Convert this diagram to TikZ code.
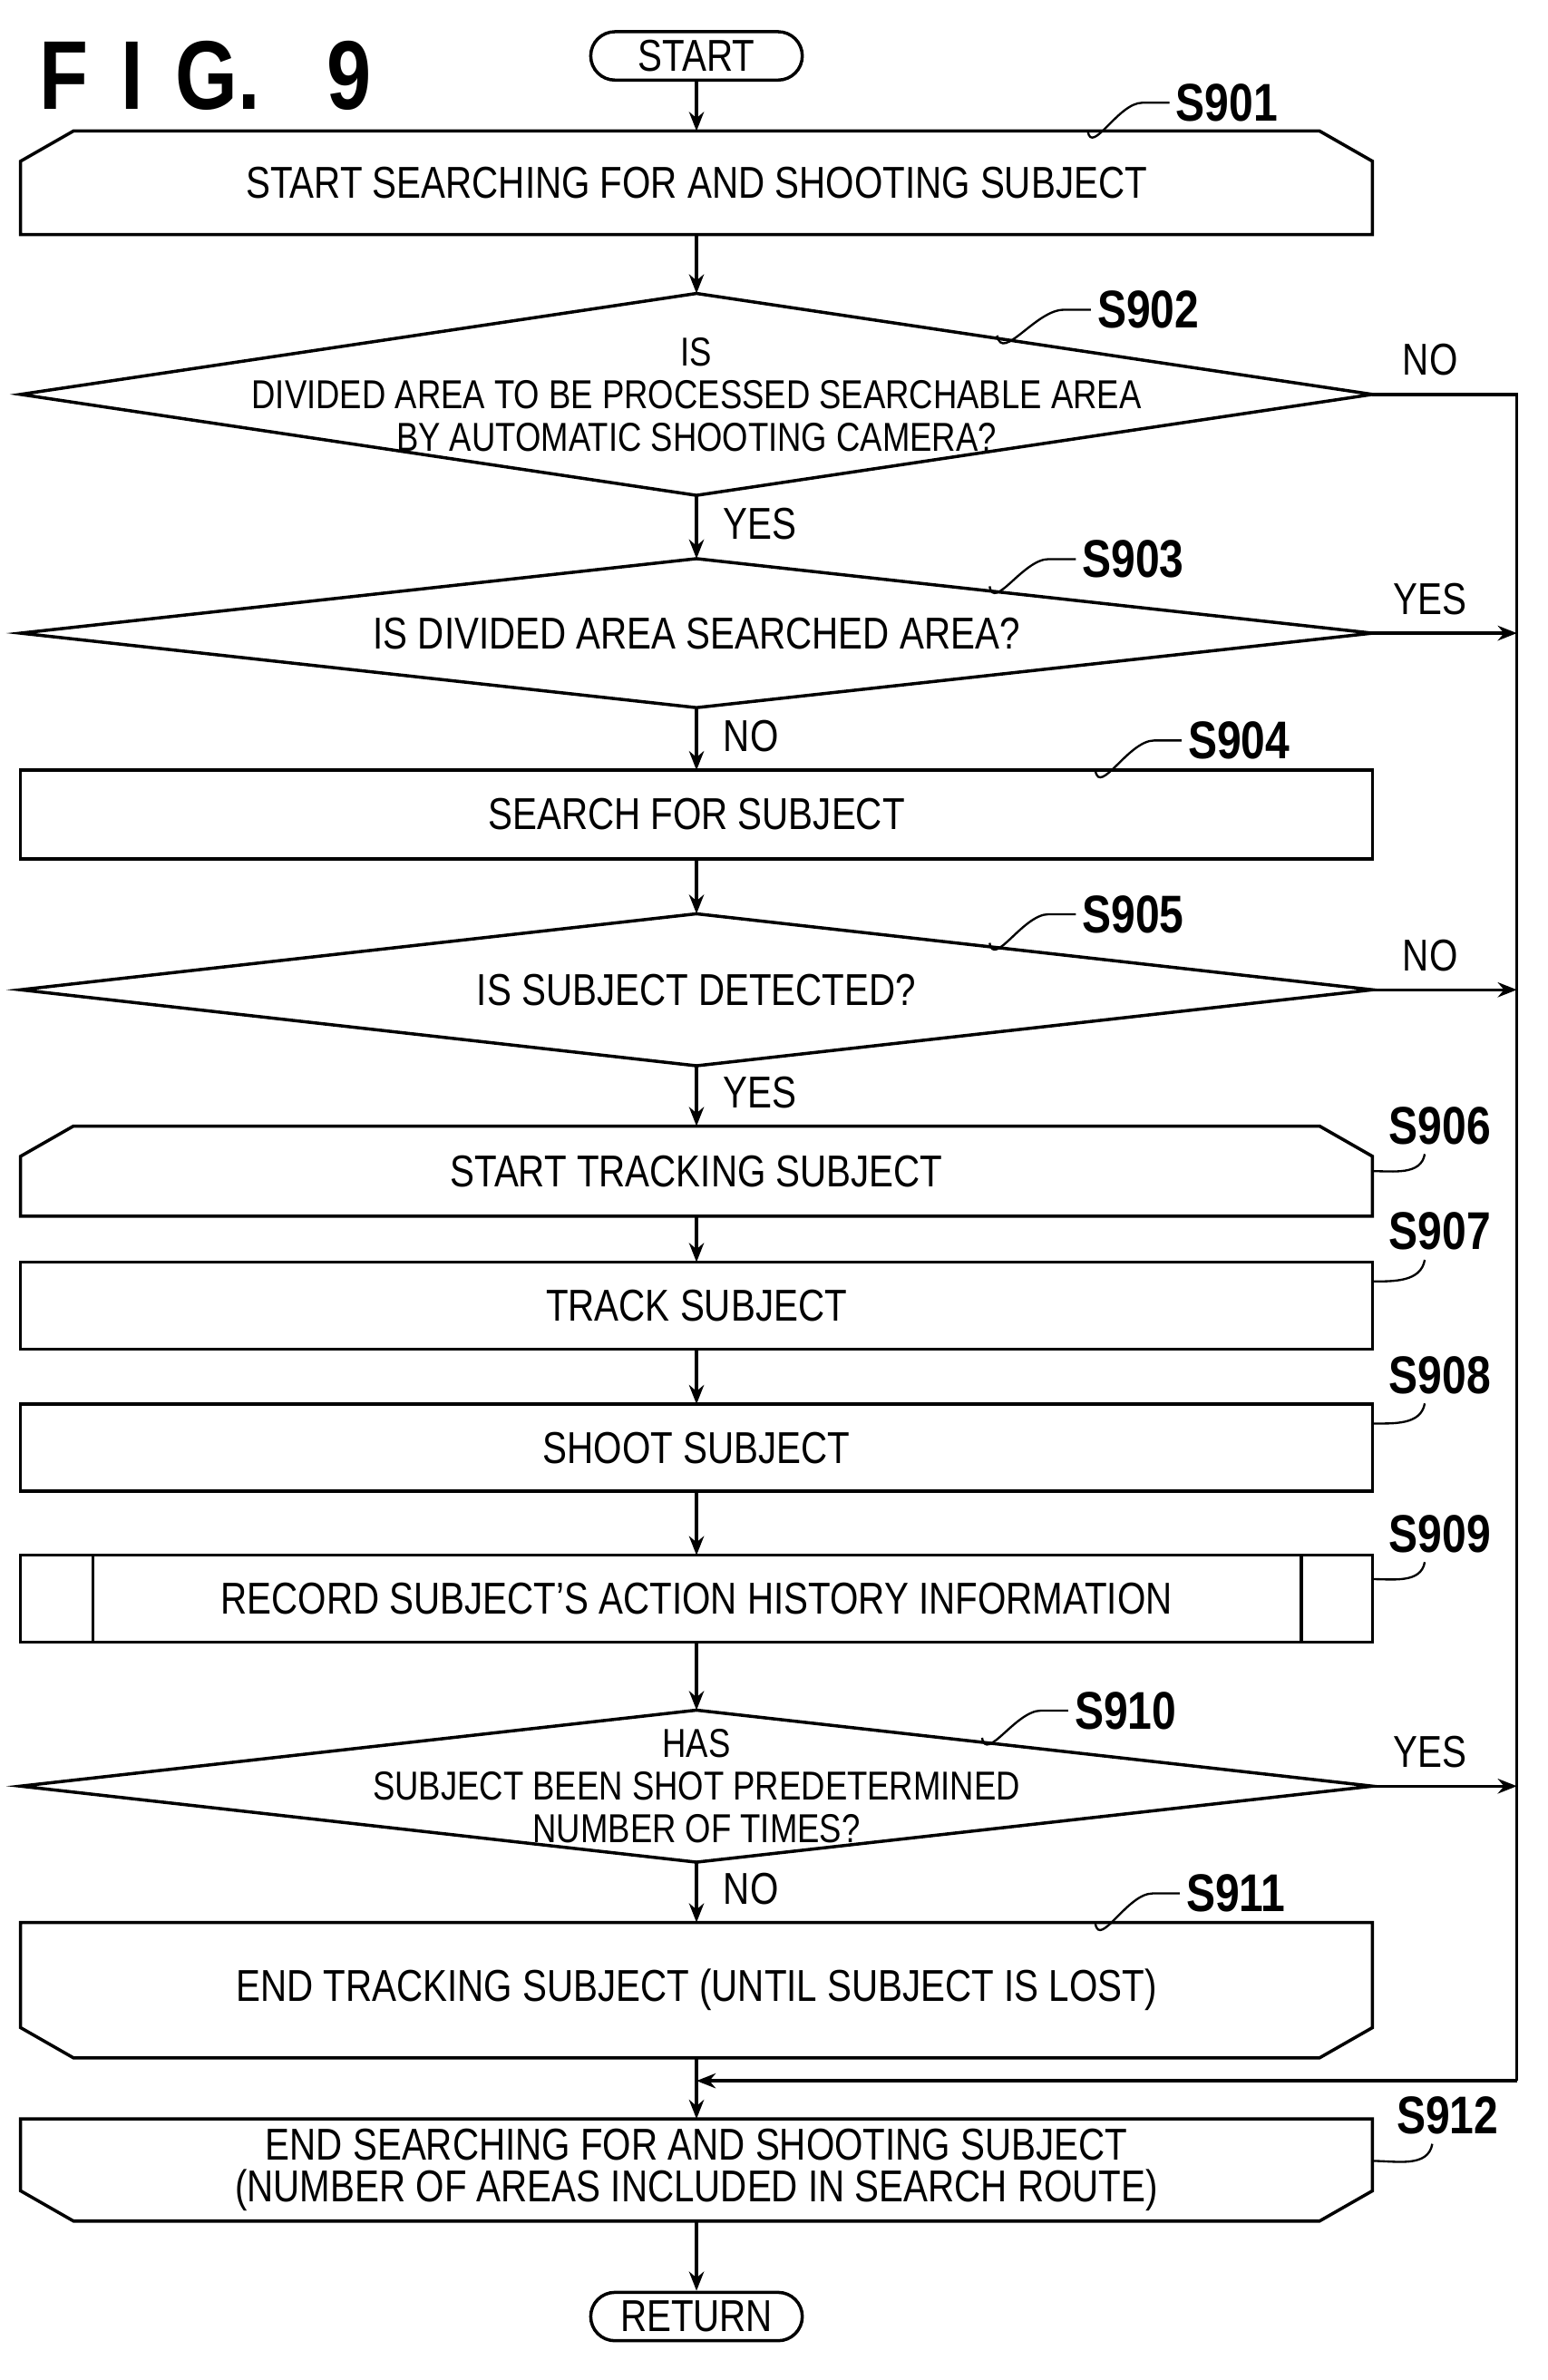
\documentclass[tikz,border=0pt]{standalone}
\usepackage{fontspec}
\setmainfont{Liberation Sans}[FakeStretch=0.82]
\usetikzlibrary{arrows.meta,calc}
\begin{document}
\begin{tikzpicture}[x=0.025cm,y=-0.025cm,
    every node/.style={inner sep=0pt,font=\fontsize{21}{20}\selectfont,align=center},
    blk/.style={minimum width=22.35cm,minimum height=#1},
    small/.style={font=\fontsize{19}{20}\selectfont},
    line/.style={line width=1.5pt},
    flow/.style={line,-{Stealth[length=9pt,width=7pt]}},
    stp/.style={font=\fontsize{25}{24}\selectfont\bfseries},
    term/.style={draw,line width=1.5pt,rounded corners=0.4cm,minimum width=3.5cm,minimum height=0.8cm}]
\useasboundingbox (0,0) rectangle (1024,1575);
% title
\node[font=\fontsize{46}{46}\selectfont\bfseries] (fig) at (136,50) {F\,\,I\,\,G.\ \ \ 9};
% blocks
\node[term] (start) at (461,37) {START};
\node[blk=1.7cm] (b901) at (461,121) {START SEARCHING FOR AND SHOOTING SUBJECT};
\node[blk=3.325cm,small] (d902) at (461,261) {IS\\DIVIDED AREA TO BE PROCESSED SEARCHABLE AREA\\BY AUTOMATIC SHOOTING CAMERA?};
\node[blk=2.45cm] (d903) at (461,419) {IS DIVIDED AREA SEARCHED AREA?};
\node[blk=1.45cm] (b904) at (461,539) {SEARCH FOR SUBJECT};
\node[blk=2.5cm] (d905) at (461,655) {IS SUBJECT DETECTED?};
\node[blk=1.475cm] (b906) at (461,775) {START TRACKING SUBJECT};
\node[blk=1.425cm] (b907) at (461,864) {TRACK SUBJECT};
\node[blk=1.425cm] (b908) at (461,958) {SHOOT SUBJECT};
\node[blk=1.425cm] (b909) at (461,1058) {RECORD SUBJECT'S ACTION HISTORY INFORMATION};
\node[blk=2.5cm,small] (d910) at (461,1182) {HAS\\SUBJECT BEEN SHOT PREDETERMINED\\NUMBER OF TIMES?};
\node[blk=2.225cm] (b911) at (461,1317) {END TRACKING SUBJECT (UNTIL SUBJECT IS LOST)};
\node[blk=1.675cm] (b912) at (461,1436) {END SEARCHING FOR AND SHOOTING SUBJECT\\(NUMBER OF AREAS INCLUDED IN SEARCH ROUTE)};
\node[term] (ret) at (461,1533) {RETURN};
% outlines
\draw[line] ($(b901.north west)+(35,0)$) -- ($(b901.north east)+(-35,0)$) -- ($(b901.north east)+(0,20)$)
  -- (b901.south east) -- (b901.south west) -- ($(b901.north west)+(0,20)$) -- cycle;
\foreach \d in {d902,d903,d905,d910}
  \draw[line] (\d.north) -- (\d.east) -- (\d.south) -- (\d.west) -- cycle;
\foreach \b in {b904,b907,b908,b909}
  \draw[line] (\b.north west) rectangle (\b.south east);
\draw[line] ($(b909.north west)+(48,0)$) -- ($(b909.south west)+(48,0)$);
\draw[line] ($(b909.north east)+(-47,0)$) -- ($(b909.south east)+(-47,0)$);
\draw[line] ($(b906.north west)+(35,0)$) -- ($(b906.north east)+(-35,0)$) -- ($(b906.north east)+(0,20)$)
  -- (b906.south east) -- (b906.south west) -- ($(b906.north west)+(0,20)$) -- cycle;
\foreach \b in {b911,b912}
  \draw[line] (\b.north west) -- (\b.north east) -- ($(\b.south east)+(0,-20)$) -- ($(\b.south east)+(-35,0)$)
    -- ($(\b.south west)+(35,0)$) -- ($(\b.south west)+(0,-20)$) -- cycle;
% main flow
\draw[flow] (start) -- (b901);
\draw[flow] (b901) -- (d902.north);
\draw[flow] (d902.south) -- node[right=12pt,pos=0.45] {YES} (d903.north);
\draw[flow] (d903.south) -- node[right=12pt,pos=0.45] {NO} (b904);
\draw[flow] (b904) -- (d905.north);
\draw[flow] (d905.south) -- node[right=12pt,pos=0.45] {YES} (b906);
\draw[flow] (b906) -- (b907);
\draw[flow] (b907) -- (b908);
\draw[flow] (b908) -- (b909);
\draw[flow] (b909) -- (d910.north);
\draw[flow] (d910.south) -- node[right=12pt,pos=0.45] {NO} (b911);
\coordinate (mg) at (461,1377);
\draw[flow] (b911) -- (b912);
\draw[flow] (b912) -- (ret);
% right return line
\coordinate (rt) at (1004,261);
\coordinate (rb) at (1004,1377);
\coordinate (r903) at (1004,419);
\coordinate (r905) at (1004,655);
\coordinate (r910) at (1004,1182);
\draw[line] (d902.east) -- node[above=8pt,pos=0.4] {NO} (rt) -- (rb);
\draw[flow] (rb) -- (mg);
\draw[flow] (d903.east) -- node[above=8pt,pos=0.4] {YES} (r903);
\draw[flow] (d905.east) -- node[above=8pt,pos=0.4] {NO} (r905);
\draw[flow] (d910.east) -- node[above=8pt,pos=0.4] {YES} (r910);
% step labels
\node[stp] (l901) at (812,68) {S901};  \coordinate (c901) at (720,87);
\node[stp] (l902) at (760,205) {S902}; \coordinate (c902) at (660,222);
\node[stp] (l903) at (750,370) {S903}; \coordinate (c903) at (655,388);
\node[stp] (l904) at (820,490) {S904}; \coordinate (c904) at (725,510);
\node[stp] (l905) at (750,605) {S905}; \coordinate (c905) at (655,624);
\node[stp] (l910) at (745,1132) {S910}; \coordinate (c910) at (650,1150);
\node[stp] (l911) at (818,1253) {S911}; \coordinate (c911) at (725,1273);
\foreach \n in {901,902,903,904,905,910,911}
  \draw[line,line width=1pt] (c\n) to[out=-80,in=180] ($(l\n.west)+(-22,0)$) to[out=0,in=180] ($(l\n.west)+(-4,0)$);
\node[stp] (l906) at (953,745) {S906};  \coordinate (c906) at (908,775);
\node[stp] (l907) at (953,815) {S907};  \coordinate (c907) at (908,848);
\node[stp] (l908) at (953,910) {S908};  \coordinate (c908) at (908,942);
\node[stp] (l909) at (953,1015) {S909}; \coordinate (c909) at (908,1045);
\node[stp] (l912) at (958,1400) {S912}; \coordinate (c912) at (908,1430);
\foreach \n in {906,907,908,909,912}
  \draw[line,line width=1pt] (c\n) to[out=0,in=-100] ($(l\n.south)+(-10,6)$);
\end{tikzpicture}
\end{document}
